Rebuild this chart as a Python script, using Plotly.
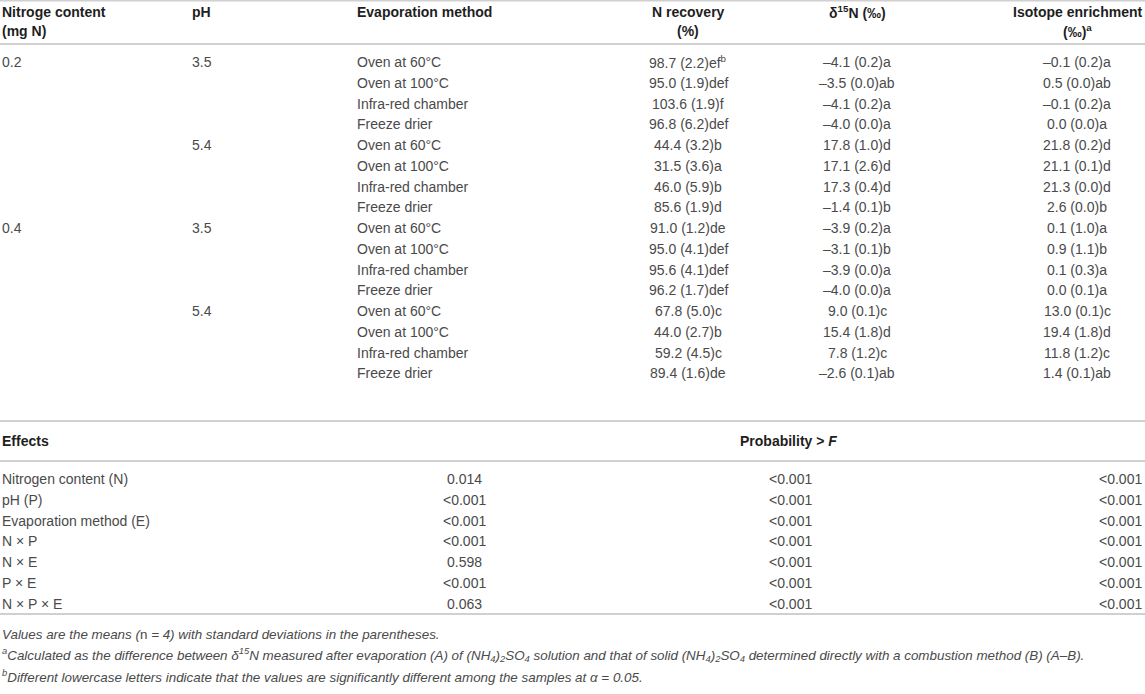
import plotly.graph_objects as go

# ---- table data ----
nitrogen_levels = ["0.2", "0.4"]
ph_levels = ["3.5", "5.4"]
methods = ["Oven at 60°C", "Oven at 100°C", "Infra-red chamber", "Freeze drier"]

n_recovery = [
    "98.7 (2.2)ef<sup>b</sup>", "95.0 (1.9)def", "103.6 (1.9)f", "96.8 (6.2)def",
    "44.4 (3.2)b", "31.5 (3.6)a", "46.0 (5.9)b", "85.6 (1.9)d",
    "91.0 (1.2)de", "95.0 (4.1)def", "95.6 (4.1)def", "96.2 (1.7)def",
    "67.8 (5.0)c", "44.0 (2.7)b", "59.2 (4.5)c", "89.4 (1.6)de",
]
delta15n = [
    "–4.1 (0.2)a", "–3.5 (0.0)ab", "–4.1 (0.2)a", "–4.0 (0.0)a",
    "17.8 (1.0)d", "17.1 (2.6)d", "17.3 (0.4)d", "–1.4 (0.1)b",
    "–3.9 (0.2)a", "–3.1 (0.1)b", "–3.9 (0.0)a", "–4.0 (0.0)a",
    "9.0 (0.1)c", "15.4 (1.8)d", "7.8 (1.2)c", "–2.6 (0.1)ab",
]
enrichment = [
    "–0.1 (0.2)a", "0.5 (0.0)ab", "–0.1 (0.2)a", "0.0 (0.0)a",
    "21.8 (0.2)d", "21.1 (0.1)d", "21.3 (0.0)d", "2.6 (0.0)b",
    "0.1 (1.0)a", "0.9 (1.1)b", "0.1 (0.3)a", "0.0 (0.1)a",
    "13.0 (0.1)c", "19.4 (1.8)d", "11.8 (1.2)c", "1.4 (0.1)ab",
]

effects = ["Nitrogen content (N)", "pH (P)", "Evaporation method (E)",
           "N × P", "N × E", "P × E", "N × P × E"]
p_recovery = ["0.014", "<0.001", "<0.001", "<0.001", "0.598", "<0.001", "0.063"]
p_delta = ["<0.001", "<0.001", "<0.001", "<0.001", "<0.001", "<0.001", "<0.001"]
p_enrich = ["<0.001", "<0.001", "<0.001", "<0.001", "<0.001", "<0.001", "<0.001"]

footnotes = [
    "<i>Values are the means (</i>n<i> = 4) with standard deviations in the parentheses.</i>",
    "<i><sup>a</sup>Calculated as the difference between δ<sup>15</sup>N measured after evaporation (A) "
    "of (NH<sub>4</sub>)<sub>2</sub>SO<sub>4</sub> solution and that of solid "
    "(NH<sub>4</sub>)<sub>2</sub>SO<sub>4</sub> determined directly with a combustion method (B) (A–B).</i>",
    "<i><sup>b</sup>Different lowercase letters indicate that the values are significantly "
    "different among the samples at α = 0.05.</i>",
]

# ---- layout constants ----
W, H = 1145, 694
FONT = "Liberation Sans, Arial, sans-serif"
TXT = "#4a4a4a"
HEAD = "#1e1e1e"
LINE = "#d0d0d0"
SIZE = 14

row0, step = 62, 20.75
eff0, eff_step = 479, 20.8
foot0, foot_step = 634, 21

col_n, col_ph, col_m = 0, 190, 355
col_rec, col_del, col_enr = 688, 857, 1077
col_pr, col_pd, col_pe = 464, 790, 1144

ann = []


def add(x, y, text, anchor="left", bold=False, size=SIZE, color=TXT):
    if bold:
        text = f"<b>{text}</b>"
    ann.append(dict(x=x, y=y, xref="x", yref="y", text=text, showarrow=False,
                    xanchor=anchor, yanchor="middle",
                    font=dict(family=FONT, size=size, color=color)))


# header
add(col_n, 12, "Nitroge content", bold=True, color=HEAD)
add(col_n, 31, "(mg N)", bold=True, color=HEAD)
add(col_ph, 12, "pH", bold=True, color=HEAD)
add(col_m, 12, "Evaporation method", bold=True, color=HEAD)
add(col_rec, 12, "N recovery", "center", bold=True, color=HEAD)
add(col_rec, 31, "(%)", "center", bold=True, color=HEAD)
add(col_del, 12, "δ<sup>15</sup>N (‰)", "center", bold=True, color=HEAD)
add(col_enr, 12, "Isotope enrichment", "center", bold=True, color=HEAD)
add(col_enr, 31, "(‰)<sup>a</sup>", "center", bold=True, color=HEAD)

# body
for i in range(len(n_recovery)):
    y = row0 + i * step
    if i % 8 == 0:
        add(col_n, y, nitrogen_levels[i // 8])
    if i % 4 == 0:
        add(col_ph, y, ph_levels[(i // 4) % 2])
    add(col_m, y, methods[i % 4])
    add(col_rec, y, n_recovery[i], "center")
    add(col_del, y, delta15n[i], "center")
    add(col_enr, y, enrichment[i], "center")

# effects section
add(col_n, 441, "Effects", bold=True, color=HEAD)
add(738, 441, "Probability > <i>F</i>", bold=True, color=HEAD)
for i, name in enumerate(effects):
    y = eff0 + i * eff_step
    add(col_n, y, name)
    add(col_pr, y, p_recovery[i], "center")
    add(col_pd, y, p_delta[i], "center")
    add(col_pe, y, p_enrich[i], "right")

for i, note in enumerate(footnotes):
    add(col_n, foot0 + i * foot_step, note, size=13.4)

lines = [0.5, 44, 421, 461, 614]
shapes = [dict(type="line", xref="x", yref="y", x0=0, x1=W, y0=yy, y1=yy,
               line=dict(color=LINE, width=2)) for yy in lines]

fig = go.Figure()
fig.update_layout(
    width=W, height=H,
    margin=dict(l=0, r=0, t=0, b=0),
    paper_bgcolor="white", plot_bgcolor="white",
    xaxis=dict(range=[0, W], visible=False, fixedrange=True),
    yaxis=dict(range=[H, 0], visible=False, fixedrange=True),
    annotations=ann, shapes=shapes, showlegend=False,
)
# drop the default page margin so the table sits flush with the window
fig.write_html("out.html", post_script="document.body.style.margin='0';",
               config={"displayModeBar": False})
